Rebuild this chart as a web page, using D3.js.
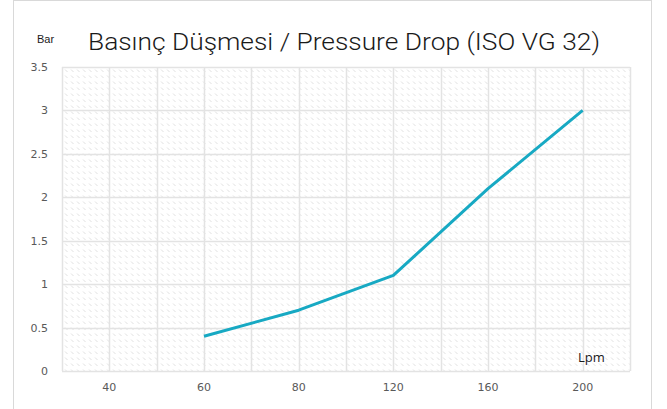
<!DOCTYPE html>
<html><head><meta charset="utf-8">
<script src="https://cdn.jsdelivr.net/npm/d3@7"></script>
<style>body{margin:0;background:#fff;}svg{display:block;}</style>
</head><body>
<svg id="chart" width="667" height="409"></svg>
<script>
const categories = ["40","60","80","120","160","200"];
const values = [null, 0.4, 0.7, 1.1, 2.1, 3.0];
const yTicks = [0, 0.5, 1, 1.5, 2, 2.5, 3, 3.5];
const yTickLabels = ["0","0.5","1","1.5","2","2.5","3","3.5"];
const titleText = "Basınç Düşmesi / Pressure Drop (ISO VG 32)";
const yUnit = "Bar";
const xUnit = "Lpm";

const svg = d3.select("#chart");
const W = 667, H = 409;
const m = {left: 62, right: 37, top: 67, bottom: 38};
const pw = W - m.left - m.right, ph = H - m.top - m.bottom;

// chart border
svg.append("rect").attr("x", 13.5).attr("y", 0.5).attr("width", 638).attr("height", 410)
  .attr("fill", "#fff").attr("stroke", "#d9d9d9").attr("stroke-width", 1);

const defs = svg.append("defs");
const pat = defs.append("pattern").attr("id", "dots").attr("patternUnits", "userSpaceOnUse")
  .attr("width", 6).attr("height", 6).attr("x", m.left).attr("y", m.top);
pat.append("path").attr("d", "M1,1.5 L3.5,4").attr("stroke", "#e0e0e0").attr("stroke-width", 1);

const x = d3.scaleBand().domain(categories).range([0, pw]).padding(0);
const y = d3.scaleLinear().domain([0, 3.5]).range([ph, 0]);

const g = svg.append("g").attr("transform", `translate(${m.left},${m.top})`);
g.append("rect").attr("width", pw).attr("height", ph).attr("fill", "url(#dots)");

// horizontal gridlines
g.append("g").selectAll("line").data(yTicks).join("line")
  .attr("x1", 0).attr("x2", pw)
  .attr("y1", d => Math.round(y(d)) + 0.5).attr("y2", d => Math.round(y(d)) + 0.5)
  .attr("stroke", "#e3e3e3").attr("stroke-width", 1.5);

// vertical gridlines at boundaries and centers
const vx = [];
categories.forEach((c, i) => { vx.push(x(c)); vx.push(x(c) + x.bandwidth() / 2); });
vx.push(pw);
g.append("g").selectAll("line").data(vx).join("line")
  .attr("x1", d => Math.round(d) + 0.5).attr("x2", d => Math.round(d) + 0.5)
  .attr("y1", 0).attr("y2", ph)
  .attr("stroke", "#e3e3e3").attr("stroke-width", 1.5);

// axes
const yAxis = d3.axisLeft(y).tickValues(yTicks).tickFormat((d, i) => yTickLabels[i]).tickSize(0).tickPadding(14);
const ya = g.append("g").call(yAxis);
ya.select(".domain").remove();
ya.selectAll("text").attr("fill", "#595959").style("font-family", "DejaVu Sans, Verdana, sans-serif").style("font-size", "11px");

const xAxis = d3.axisBottom(x).tickSize(0).tickPadding(12);
const xa = g.append("g").attr("transform", `translate(0,${ph})`).call(xAxis);
xa.select(".domain").remove();
xa.selectAll("text").attr("fill", "#595959").style("font-family", "DejaVu Sans, Verdana, sans-serif").style("font-size", "11px");

// line
const pts = categories.map((c, i) => ({c, v: values[i]})).filter(d => d.v != null);
const line = d3.line().x(d => x(d.c) + x.bandwidth() / 2).y(d => y(d.v));
g.append("path").datum(pts).attr("d", line).attr("fill", "none")
  .attr("stroke", "#17a9c3").attr("stroke-width", 3).attr("stroke-linejoin", "round");

// title
const t = svg.append("text").attr("x", 88).attr("y", 50).text(titleText)
  .attr("fill", "#1a1a1a").style("font-family", "Roboto, Liberation Sans, Arial, sans-serif")
  .style("font-size", "23px").style("font-weight", "300");
t.attr("textLength", 512).attr("lengthAdjust", "spacingAndGlyphs");

svg.append("text").attr("x", 37).attr("y", 43).text(yUnit)
  .attr("fill", "#1a1a1a").style("font-family", "Liberation Sans, Arial, sans-serif").style("font-size", "11px");

svg.append("text").attr("x", 578).attr("y", 362).text(xUnit)
  .attr("fill", "#1a1a1a").style("font-family", "Open Sans, Liberation Sans, sans-serif").style("font-size", "13px");
</script>
</body></html>
